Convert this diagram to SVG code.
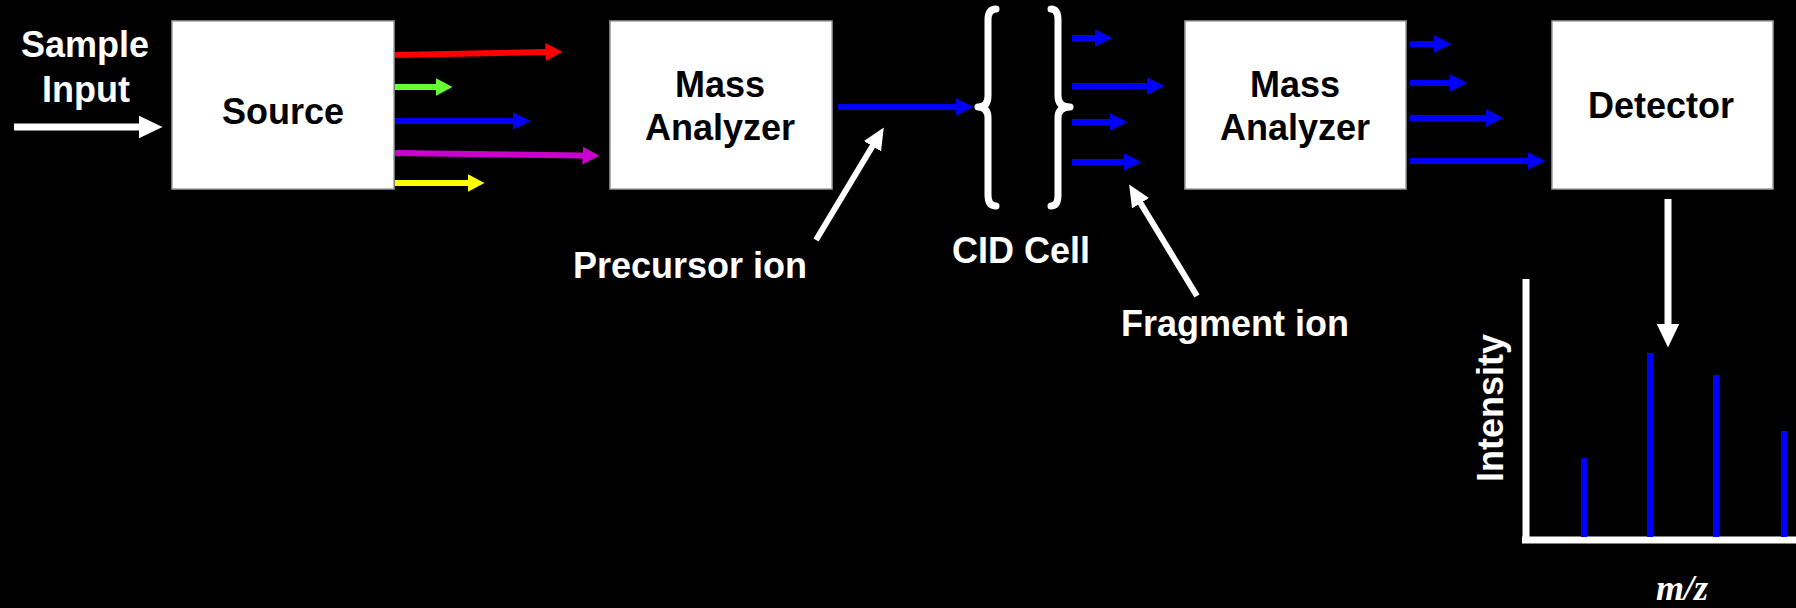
<svg xmlns="http://www.w3.org/2000/svg" width="1796" height="608" viewBox="0 0 1796 608">
<style>
.bg{fill:#000}
.box{fill:#fff;stroke:#a0a0a0;stroke-width:1.5}
.t{font-family:"Liberation Sans",Arial,sans-serif;font-weight:bold;font-size:36px;text-anchor:middle}
.tb{fill:#000}
.tw{fill:#fff}
.mz{font-family:"Liberation Serif","Times New Roman",serif;font-weight:bold;font-style:italic;font-size:36px;fill:#fff;text-anchor:middle}
.w{stroke:#fff;stroke-width:7;fill:none}
.wd{stroke:#fff;stroke-width:6;fill:none}
.c{stroke-width:6;fill:none}
.br{stroke:#fff;stroke-width:7;fill:none;stroke-linecap:round;stroke-linejoin:round}
.bar{stroke:#0000ff;stroke-width:6}
</style>
<defs>
<marker id="mw" markerUnits="userSpaceOnUse" markerWidth="24" markerHeight="23" refX="0.5" refY="11.5" orient="auto"><path d="M0,0 L24,11.5 L0,23 z" fill="#fff"/></marker>
<marker id="mwd" markerUnits="userSpaceOnUse" markerWidth="22" markerHeight="20" refX="0.5" refY="10" orient="auto"><path d="M0,0 L22,10 L0,20 z" fill="#fff"/></marker>
<marker id="mr" markerUnits="userSpaceOnUse" markerWidth="17" markerHeight="18" refX="0.5" refY="9" orient="auto"><path d="M0,0 L17,9 L0,18 z" fill="#ff0000"/></marker>
<marker id="mg" markerUnits="userSpaceOnUse" markerWidth="17" markerHeight="18" refX="0.5" refY="9" orient="auto"><path d="M0,0 L17,9 L0,18 z" fill="#66ff33"/></marker>
<marker id="mb" markerUnits="userSpaceOnUse" markerWidth="18" markerHeight="18" refX="0.5" refY="9" orient="auto"><path d="M0,0 L18,9 L0,18 z" fill="#0000ff"/></marker>
<marker id="mm" markerUnits="userSpaceOnUse" markerWidth="17" markerHeight="18" refX="0.5" refY="9" orient="auto"><path d="M0,0 L17,9 L0,18 z" fill="#cc00cc"/></marker>
<marker id="my" markerUnits="userSpaceOnUse" markerWidth="17" markerHeight="18" refX="0.5" refY="9" orient="auto"><path d="M0,0 L17,9 L0,18 z" fill="#ffff00"/></marker>
</defs>
<rect class="bg" x="0" y="0" width="1796" height="608"/>

<g id="sample-input">
<text class="t tw" x="85" y="57">Sample</text>
<text class="t tw" x="86" y="102">Input</text>
</g>

<g id="source">
<rect class="box" x="172" y="21" width="222" height="168"/>
<text class="t tb" x="283" y="124">Source</text>
</g>

<g id="mass-analyzer-1">
<rect class="box" x="610" y="21" width="222" height="168"/>
<text class="t tb" x="720" y="97">Mass</text>
<text class="t tb" x="720" y="140">Analyzer</text>
</g>

<g id="cid-cell">
<path class="br" d="M996,9 Q988,9 988,20 L988,96 Q988,107 978,107 Q988,107 988,118 L988,195 Q988,206 996,206"/>
<path class="br" d="M1051,9 Q1058,9 1058,20 L1058,96 Q1058,107 1070,107 Q1058,107 1058,118 L1058,195 Q1058,206 1051,206"/>
<text class="t tw" x="1021" y="263">CID Cell</text>
</g>

<g id="mass-analyzer-2">
<rect class="box" x="1185" y="21" width="221" height="168"/>
<text class="t tb" x="1295" y="97">Mass</text>
<text class="t tb" x="1295" y="140">Analyzer</text>
</g>

<g id="detector">
<rect class="box" x="1552" y="21" width="221" height="168"/>
<text class="t tb" x="1661" y="118">Detector</text>
</g>

<g id="precursor-label">
<text class="t tw" x="690" y="278">Precursor ion</text>
</g>

<g id="fragment-label">
<text class="t tw" x="1235" y="336">Fragment ion</text>
</g>

<g id="spectrum">
<line class="w" x1="1526" y1="279" x2="1526" y2="543"/>
<line class="w" x1="1522" y1="540" x2="1796" y2="540"/>
<line class="bar" x1="1584" y1="458" x2="1584" y2="537"/>
<line class="bar" x1="1650" y1="353" x2="1650" y2="537"/>
<line class="bar" x1="1716" y1="375" x2="1716" y2="537"/>
<line class="bar" x1="1784" y1="431" x2="1784" y2="537"/>
<text class="t tw" transform="translate(1503,408) rotate(-90)" x="0" y="0">Intensity</text>
<text class="mz" x="1682" y="600">m/z</text>
</g>

<g id="connectors">
<line class="w" x1="14" y1="127" x2="139" y2="127" marker-end="url(#mw)"/>
<line class="c" stroke="#ff0000" x1="395" y1="55" x2="546" y2="52" marker-end="url(#mr)"/>
<line class="c" stroke="#66ff33" x1="395" y1="87" x2="436" y2="87" marker-end="url(#mg)"/>
<line class="c" stroke="#0000ff" x1="395" y1="121" x2="513" y2="121" marker-end="url(#mb)"/>
<line class="c" stroke="#cc00cc" x1="395" y1="153" x2="583" y2="155.6" marker-end="url(#mm)"/>
<line class="c" stroke="#ffff00" x1="395" y1="183" x2="468" y2="183" marker-end="url(#my)"/>
<line class="c" stroke="#0000ff" x1="838" y1="107" x2="956" y2="107" marker-end="url(#mb)"/>
<line class="c" stroke="#0000ff" x1="1072" y1="38" x2="1095" y2="38" marker-end="url(#mb)"/>
<line class="c" stroke="#0000ff" x1="1072" y1="86" x2="1147" y2="86" marker-end="url(#mb)"/>
<line class="c" stroke="#0000ff" x1="1072" y1="122" x2="1110" y2="122" marker-end="url(#mb)"/>
<line class="c" stroke="#0000ff" x1="1072" y1="162" x2="1124" y2="162" marker-end="url(#mb)"/>
<line class="c" stroke="#0000ff" x1="1410" y1="44" x2="1434" y2="44" marker-end="url(#mb)"/>
<line class="c" stroke="#0000ff" x1="1410" y1="83" x2="1450" y2="83" marker-end="url(#mb)"/>
<line class="c" stroke="#0000ff" x1="1410" y1="118" x2="1486" y2="118" marker-end="url(#mb)"/>
<line class="c" stroke="#0000ff" x1="1410" y1="161" x2="1528" y2="161" marker-end="url(#mb)"/>
<line class="wd" x1="816" y1="240" x2="872.7" y2="145.8" marker-end="url(#mwd)"/>
<line class="wd" x1="1197" y1="296" x2="1140.3" y2="202.8" marker-end="url(#mwd)"/>
<line class="w" x1="1668" y1="199" x2="1668" y2="324" marker-end="url(#mw)"/>
</g>
</svg>
